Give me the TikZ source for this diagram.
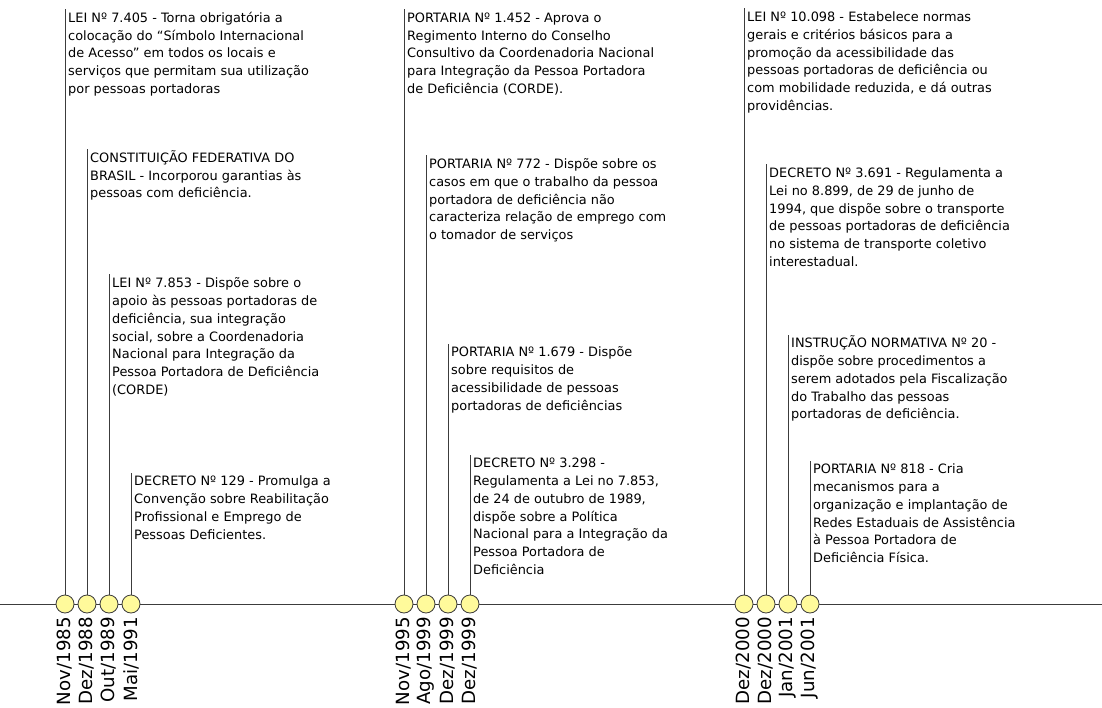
\documentclass[tikz,border=0pt]{standalone}
\usepackage{fontspec}
\setmainfont{DejaVu Sans}
\definecolor{dotfill}{RGB}{255,250,155}
\definecolor{linegray}{RGB}{60,60,60}
\tikzset{
  evtext/.style={anchor=north west, inner sep=0pt, align=left,
    font=\fontsize{12.9}{17.7}\selectfont},
  evdot/.style={circle, draw=linegray, fill=dotfill, line width=0.8pt,
    minimum size=18pt, inner sep=0pt},
  evline/.style={draw=linegray, line width=1pt},
  evdate/.style={rotate=90, anchor=east, inner sep=0pt,
    font=\fontsize{18.2}{20}\selectfont},
}
\newcommand{\fl}{\rule{0pt}{13.2pt}}
\begin{document}
\begin{tikzpicture}[x=1pt,y=-1pt]
\useasboundingbox (0,0) rectangle (1102,708);
\fill[white] (0,0) rectangle (1102,708);
% axis
\coordinate (axL) at (0,604);
\coordinate (axR) at (1102,604);
\draw[evline] (axL) -- (axR);
% circle centres
\foreach \n/\x in {a1/65,a2/87,a3/109,a4/131,b1/404,b2/426,b3/448,b4/470,c1/744,c2/766,c3/788,c4/810}
  \coordinate (p\n) at (\x,604);
% texts
\node[evtext] (ta1) at (68,9) {\fl LEI Nº 7.405 - Torna obrigatória a\\colocação do “Símbolo Internacional\\de Acesso” em todos os locais e\\serviços que permitam sua utilização\\por pessoas portadoras};
\node[evtext] (ta2) at (90,149) {\fl CONSTITUIÇÃO FEDERATIVA DO\\BRASIL - Incorporou garantias às\\pessoas com deficiência.};
\node[evtext] (ta3) at (112,274.5) {\fl LEI Nº 7.853 - Dispõe sobre o\\apoio às pessoas portadoras de\\deficiência, sua integração\\social, sobre a Coordenadoria\\Nacional para Integração da\\Pessoa Portadora de Deficiência\\(CORDE)};
\node[evtext] (ta4) at (134,472.5) {\fl DECRETO Nº 129 - Promulga a\\Convenção sobre Reabilitação\\Profissional e Emprego de\\Pessoas Deficientes.};
\node[evtext] (tb1) at (407,9) {\fl PORTARIA Nº 1.452 - Aprova o\\Regimento Interno do Conselho\\Consultivo da Coordenadoria Nacional\\para Integração da Pessoa Portadora\\de Deficiência (CORDE).};
\node[evtext] (tb2) at (429,155.5) {\fl PORTARIA Nº 772 - Dispõe sobre os\\casos em que o trabalho da pessoa\\portadora de deficiência não\\caracteriza relação de emprego com\\o tomador de serviços};
\node[evtext] (tb3) at (451,343.5) {\fl PORTARIA Nº 1.679 - Dispõe\\sobre requisitos de\\acessibilidade de pessoas\\portadoras de deficiências};
\node[evtext] (tb4) at (473,454.5) {\fl DECRETO Nº 3.298 -\\Regulamenta a Lei no 7.853,\\de 24 de outubro de 1989,\\dispõe sobre a Política\\Nacional para a Integração da\\Pessoa Portadora de\\Deficiência};
\node[evtext] (tc1) at (747,8.5) {\fl LEI Nº 10.098 - Estabelece normas\\gerais e critérios básicos para a\\promoção da acessibilidade das\\pessoas portadoras de deficiência ou\\com mobilidade reduzida, e dá outras\\providências.};
\node[evtext] (tc2) at (769,164.5) {\fl DECRETO Nº 3.691 - Regulamenta a\\Lei no 8.899, de 29 de junho de\\1994, que dispõe sobre o transporte\\de pessoas portadoras de deficiência\\no sistema de transporte coletivo\\interestadual.};
\node[evtext] (tc3) at (791,334.5) {\fl INSTRUÇÃO NORMATIVA Nº 20 -\\dispõe sobre procedimentos a\\serem adotados pela Fiscalização\\do Trabalho das pessoas\\portadoras de deficiência.};
\node[evtext] (tc4) at (813,460.5) {\fl PORTARIA Nº 818 - Cria\\mecanismos para a\\organização e implantação de\\Redes Estaduais de Assistência\\à Pessoa Portadora de\\Deficiência Física.};
% stems
\foreach \n in {a1,a2,a3,a4,b1,b2,b3,b4,c1,c2,c3,c4}
  \draw[evline] (p\n) -- (p\n |- t\n.north);
% dots
\foreach \n in {a1,a2,a3,a4,b1,b2,b3,b4,c1,c2,c3,c4}
  \node[evdot] (d\n) at (p\n) {};
% dates
\node[evdate] (la1) at ([yshift=-13pt]da1.center) {Nov/1985};
\node[evdate] (la2) at ([yshift=-13pt]da2.center) {Dez/1988};
\node[evdate] (la3) at ([yshift=-13pt]da3.center) {Out/1989};
\node[evdate] (la4) at ([yshift=-13pt]da4.center) {Mai/1991};
\node[evdate] (lb1) at ([yshift=-13pt]db1.center) {Nov/1995};
\node[evdate] (lb2) at ([yshift=-13pt]db2.center) {Ago/1999};
\node[evdate] (lb3) at ([yshift=-13pt]db3.center) {Dez/1999};
\node[evdate] (lb4) at ([yshift=-13pt]db4.center) {Dez/1999};
\node[evdate] (lc1) at ([yshift=-13pt]dc1.center) {Dez/2000};
\node[evdate] (lc2) at ([yshift=-13pt]dc2.center) {Dez/2000};
\node[evdate] (lc3) at ([yshift=-13pt]dc3.center) {Jan/2001};
\node[evdate] (lc4) at ([yshift=-13pt]dc4.center) {Jun/2001};
\end{tikzpicture}
\end{document}
